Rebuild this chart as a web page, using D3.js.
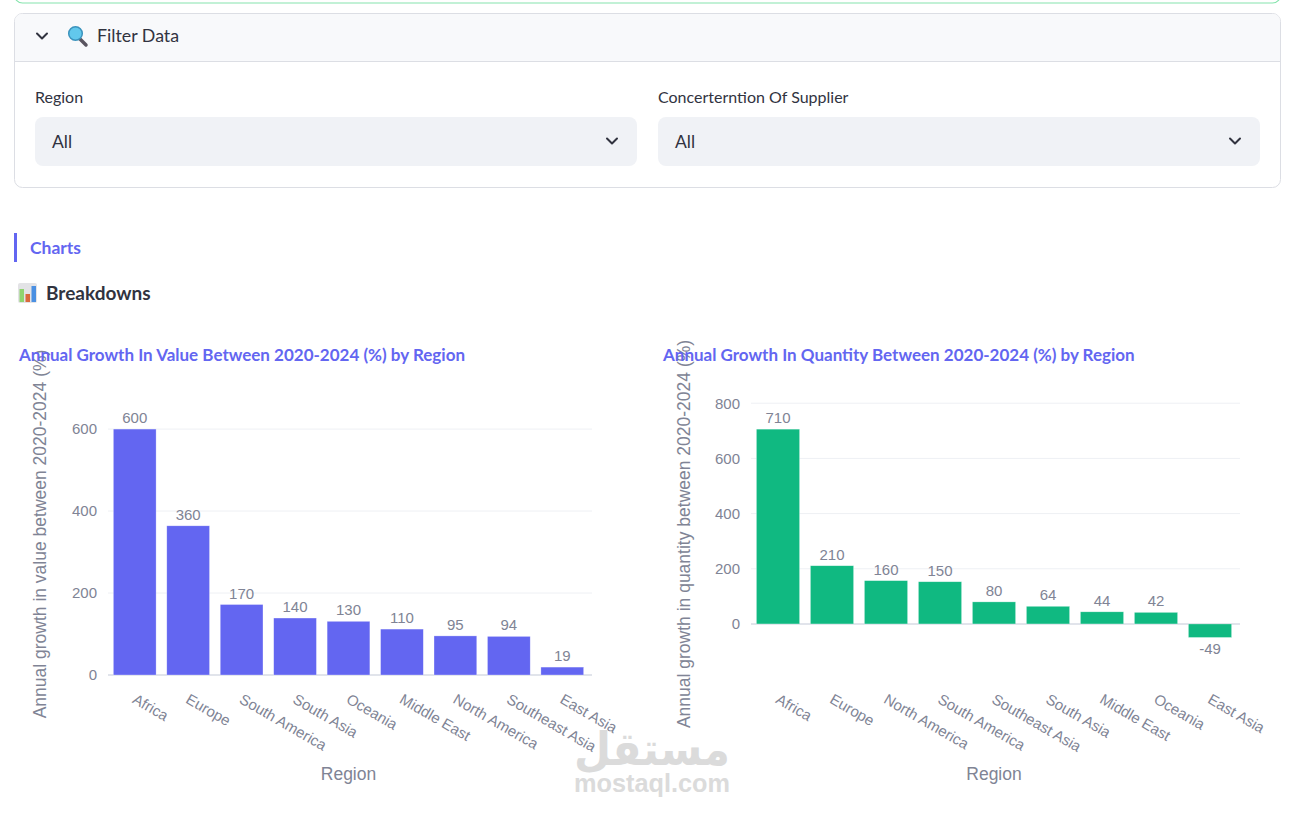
<!DOCTYPE html>
<html>
<head>
<meta charset="utf-8">
<script src="https://cdn.jsdelivr.net/npm/d3@7"></script>
<style>
  html, body { margin: 0; padding: 0; background: #fff; }
  svg { display: block; }
</style>
</head>
<body>
<svg id="svg" width="1304" height="813"></svg>
<script>
// data
const valueRegions = ["Africa", "Europe", "South America", "South Asia", "Oceania", "Middle East", "North America", "Southeast Asia", "East Asia"];
const valueGrowth = [600, 364, 172, 139, 131, 112, 95.4, 94.2, 19.3];
const valueTicks = [0, 200, 400, 600];

const qtyRegions = ["Africa", "Europe", "North America", "South America", "Southeast Asia", "South Asia", "Middle East", "Oceania", "East Asia"];
const qtyGrowth = [706, 211, 157, 153, 80, 64, 44, 42, -49];
const qtyTicks = [0, 200, 400, 600, 800];

const uiFont = "Lato, 'Noto Sans', sans-serif";
const plotFont = "'Liberation Sans', Arial, sans-serif";
const accent = "#6366f1";
const textDark = "#31333f";
const tickGray = "#808495";

const svg = d3.select("#svg");

// ---- page chrome (streamlit-like) ----
// green box above (only its bottom edge is visible)
svg.append("rect")
  .attr("x", 14.5).attr("y", -30).attr("width", 1266).attr("height", 33)
  .attr("rx", 8).attr("fill", "#fff").attr("stroke", "#86e4ad").attr("stroke-width", 1.2);

// expander
svg.append("rect")
  .attr("x", 14.5).attr("y", 13.5).attr("width", 1266).attr("height", 174)
  .attr("rx", 8).attr("fill", "#fff").attr("stroke", "#dcdee4");
svg.append("path")
  .attr("d", "M15,61 L15,21.5 Q15,14 22.5,14 L1272.5,14 Q1280,14 1280,21.5 L1280,61 Z")
  .attr("fill", "#f8f9fb");
svg.append("line")
  .attr("x1", 14.5).attr("x2", 1280.5).attr("y1", 61.5).attr("y2", 61.5)
  .attr("stroke", "#dcdee4");

function chevron(cx, cy) {
  svg.append("path")
    .attr("d", `M${cx - 5},${cy - 2.5} L${cx},${cy + 2.5} L${cx + 5},${cy - 2.5}`)
    .attr("fill", "none").attr("stroke", textDark).attr("stroke-width", 2)
    .attr("stroke-linecap", "round").attr("stroke-linejoin", "round");
}
chevron(42, 36);

// magnifier icon
svg.append("line").attr("x1", 80).attr("y1", 39).attr("x2", 86).attr("y2", 45)
  .attr("stroke", "#5a5560").attr("stroke-width", 3.5).attr("stroke-linecap", "round");
svg.append("circle").attr("cx", 75.5).attr("cy", 33.5).attr("r", 6.8)
  .attr("fill", "#62c8ec").attr("stroke", "#3b93bd").attr("stroke-width", 1.5);

svg.append("text").attr("x", 97).attr("y", 42)
  .attr("font-family", uiFont).attr("font-size", 17.8).attr("fill", textDark)
  .text("Filter Data");

const filters = [
  { label: "Region", x: 35 },
  { label: "Concerterntion Of Supplier", x: 658 }
];
filters.forEach(f => {
  svg.append("text").attr("x", f.x).attr("y", 102.5)
    .attr("font-family", uiFont).attr("font-size", 16).attr("fill", textDark)
    .text(f.label);
  svg.append("rect").attr("x", f.x).attr("y", 117).attr("width", 602).attr("height", 49)
    .attr("rx", 8).attr("fill", "#f0f2f6");
  svg.append("text").attr("x", f.x + 17).attr("y", 147.5)
    .attr("font-family", uiFont).attr("font-size", 17.5).attr("fill", textDark)
    .text("All");
  chevron(f.x + 577, 141);
});

// "Charts" caption
svg.append("rect").attr("x", 14).attr("y", 233).attr("width", 3).attr("height", 29).attr("fill", accent);
svg.append("text").attr("x", 30).attr("y", 254)
  .attr("font-family", uiFont).attr("font-size", 17.5).attr("font-weight", 700).attr("fill", accent)
  .text("Charts");

// bar chart icon + Breakdowns
const ic = svg.append("g").attr("transform", "translate(18,283)");
ic.append("rect").attr("width", 19).attr("height", 20).attr("rx", 2).attr("fill", "#e3e3e6");
ic.append("rect").attr("x", 1.5).attr("y", 6).attr("width", 4.5).attr("height", 13).attr("fill", "#8fd46f");
ic.append("rect").attr("x", 7.5).attr("y", 11).attr("width", 4.5).attr("height", 8).attr("fill", "#d9693c");
ic.append("rect").attr("x", 13.5).attr("y", 3).attr("width", 4.5).attr("height", 16).attr("fill", "#4a90e2");
svg.append("text").attr("x", 46).attr("y", 300)
  .attr("font-family", uiFont).attr("font-size", 19).attr("font-weight", 700).attr("fill", textDark)
  .text("Breakdowns");

// ---- charts ----
function drawChart(opt) {
  const { cats, vals, ticks, color, x0, x1, y0, y1, domain, title, titleX, yTitle, yTitleX } = opt;
  const g = svg.append("g");

  const x = d3.scaleBand().domain(cats).range([x0, x1]).paddingInner(0.2).paddingOuter(0.1);
  const y = d3.scaleLinear().domain(domain).range([y1, y0]);

  // grid
  g.append("g").selectAll("line").data(ticks).join("line")
    .attr("x1", x0).attr("x2", x1 + 3)
    .attr("y1", d => y(d)).attr("y2", d => y(d))
    .attr("stroke", d => d === 0 ? "#e1e4eb" : "#eef0f4")
    .attr("stroke-width", d => d === 0 ? 2 : 1);

  // y axis labels
  const ya = g.append("g").attr("transform", `translate(${x0},0)`)
    .call(d3.axisLeft(y).tickValues(ticks).tickSize(0).tickPadding(11).tickFormat(d3.format("d")));
  ya.select(".domain").remove();
  ya.selectAll("text").attr("font-family", plotFont).attr("font-size", 15).attr("fill", tickGray);

  // bars
  g.append("g").selectAll("rect").data(vals).join("rect")
    .attr("x", (d, i) => x(cats[i]))
    .attr("width", x.bandwidth())
    .attr("y", d => y(Math.max(0, d)))
    .attr("height", d => Math.abs(y(d) - y(0)))
    .attr("fill", color)
    .attr("stroke", "rgba(255,255,255,0.5)").attr("stroke-width", 0.6);

  // value labels outside
  const fmt = d3.format(".2s");
  g.append("g").selectAll("text").data(vals).join("text")
    .attr("x", (d, i) => x(cats[i]) + x.bandwidth() / 2)
    .attr("y", d => d >= 0 ? y(d) - 6 : y(d) + 17)
    .attr("text-anchor", "middle")
    .attr("font-family", plotFont).attr("font-size", 15).attr("fill", tickGray)
    .text(d => fmt(d).replace("\u2212", "-"));

  // x tick labels, angled
  g.append("g").selectAll("text").data(cats).join("text")
    .attr("transform", d => `translate(${x(d) + x.bandwidth() / 2 + 2},${y1 + 18}) rotate(30)`)
    .attr("dy", "0.71em")
    .attr("font-family", plotFont).attr("font-size", 15).attr("fill", tickGray)
    .text(d => d);

  // axis titles
  g.append("text")
    .attr("x", (x0 + x1) / 2).attr("y", 780)
    .attr("text-anchor", "middle")
    .attr("font-family", plotFont).attr("font-size", 17.5).attr("fill", tickGray)
    .text("Region");
  g.append("text")
    .attr("transform", `translate(${yTitleX},${(y0 + y1) / 2}) rotate(-90)`)
    .attr("text-anchor", "middle").attr("dy", "0.35em")
    .attr("font-family", plotFont).attr("font-size", 17.5).attr("fill", tickGray)
    .text(yTitle);

  // chart title (drawn last, it sits over the axis title)
  svg.append("text").attr("x", titleX).attr("y", 361)
    .attr("font-family", uiFont).attr("font-size", 17).attr("font-weight", 700).attr("fill", accent)
    .text(title);
}

drawChart({
  cats: valueRegions, vals: valueGrowth, ticks: valueTicks, color: "#6366f1",
  x0: 108, x1: 589, y0: 393, y1: 675, domain: [0, 688],
  title: "Annual Growth In Value Between 2020-2024 (%) by Region", titleX: 19,
  yTitle: "Annual growth in value between 2020-2024 (%)", yTitleX: 40
});
drawChart({
  cats: qtyRegions, vals: qtyGrowth, ticks: qtyTicks, color: "#10b981",
  x0: 751, x1: 1237, y0: 393, y1: 675, domain: [-185, 837],
  title: "Annual Growth In Quantity Between 2020-2024 (%) by Region", titleX: 663,
  yTitle: "Annual growth in quantity between 2020-2024 (%)", yTitleX: 684
});

// watermark
const wm = svg.append("g").attr("fill", "#cfcfcf").attr("opacity", 0.75)
  .attr("font-family", "'DejaVu Sans', sans-serif").attr("font-weight", 700);
wm.append("text").attr("x", 574).attr("y", 765)
  .attr("font-size", 46).attr("textLength", 156).attr("lengthAdjust", "spacingAndGlyphs")
  .text("مستقل");
wm.append("text").attr("x", 574).attr("y", 792)
  .attr("font-family", plotFont).attr("font-size", 26).attr("textLength", 156).attr("lengthAdjust", "spacingAndGlyphs")
  .text("mostaql.com");
</script>
</body>
</html>
